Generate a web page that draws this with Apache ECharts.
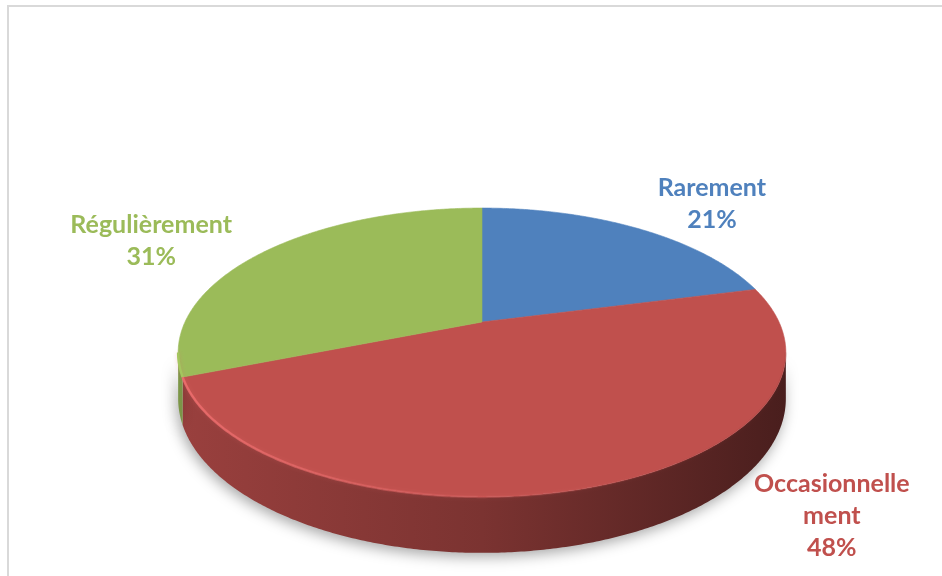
<!DOCTYPE html>
<html>
<head>
<meta charset="utf-8">
<script src="https://cdn.jsdelivr.net/npm/echarts@6/dist/echarts.min.js"></script>
<style>
html,body{margin:0;padding:0;background:#fff;}
#chart{width:942px;height:576px;}
</style>
</head>
<body>
<div id="chart"></div>
<script>
// ---- data ----
const categories = ['Rarement', 'Occasionnellement', 'Régulièrement'];
const values = [21, 48, 31];
const labelTexts = ['Rarement\n21%', 'Occasionnelle\nment\n48%', 'Régulièrement\n31%'];
const colors = ['#4F81BD', '#C0504D', '#9BBB59'];

// ---- layout / projection constants ----
const W = 942, H = 576;
const CX = 482, CY = 322;      // apex of the pie (pixels)
const A = 297, B = 138;        // horizontal / vertical scale (px per unit)
const K = 0.211;               // perspective factor
const THICK = 0.32;            // side thickness (B units)
const LABEL_POS = [[0.774, -0.855], [1.178, 1.406], [-1.114, -0.587]];

function proj(t, level) {
  const d = 1 + K * Math.cos(t);
  return [Math.sin(t) / d, (-Math.cos(t) + level * THICK) / d];
}
function shade(hex, f) {
  const n = parseInt(hex.slice(1), 16);
  const c = x => Math.min(255, Math.round(x * f));
  return 'rgb(' + c((n >> 16) & 255) + ',' + c((n >> 8) & 255) + ',' + c(n & 255) + ')';
}

const total = values.reduce((a, b) => a + b, 0);
const slices = [];
let acc = 0;
values.forEach((v, i) => { slices.push([acc / total, (acc + v) / total, i]); acc += v; });
const customData = [];
slices.forEach(s => customData.push([s[0], s[1], s[2], 0]));
slices.forEach(s => customData.push([s[0], s[1], s[2], 1]));

const tA = Math.acos(-K), tB = 2 * Math.PI - Math.acos(-K);

function arcPts(api, t0, t1, level) {
  const pts = [];
  const n = Math.max(2, Math.ceil(Math.abs(t1 - t0) / (Math.PI / 360)));
  for (let i = 0; i <= n; i++) {
    const t = t0 + (t1 - t0) * i / n;
    pts.push(api.coord(proj(t, level)));
  }
  return pts;
}

function renderItem(params, api) {
  const s = api.value(0), e = api.value(1), idx = api.value(2), part = api.value(3);
  const t0 = s * 2 * Math.PI, t1 = e * 2 * Math.PI;
  const col = colors[idx];
  const left = api.coord([-1.03, 0])[0], right = api.coord([1.03, 0])[0];
  if (part === 0) {
    const a = Math.max(t0, tA), b = Math.min(t1, tB);
    if (b <= a) return null;
    const top = arcPts(api, a, b, 0);
    const bot = arcPts(api, b, a, 1);
    const grad = new echarts.graphic.LinearGradient(left, 0, right, 0, [
      {offset: 0, color: shade(col, 0.80)},
      {offset: 0.5, color: shade(col, 0.64)},
      {offset: 1, color: shade(col, 0.38)}
    ], true);
    const rim = new echarts.graphic.LinearGradient(left, 0, right, 0, [
      {offset: 0, color: 'rgba(240,110,110,0.85)'},
      {offset: 0.35, color: 'rgba(225,100,100,0.55)'},
      {offset: 0.7, color: 'rgba(200,85,85,0.15)'},
      {offset: 1, color: 'rgba(120,40,40,0.1)'}
    ], true);
    return {
      type: 'group',
      children: [
        {type: 'polygon', shape: {points: top.concat(bot)},
         style: {fill: grad, stroke: null, shadowBlur: 14, shadowColor: 'rgba(0,0,0,0.35)', shadowOffsetY: 4, shadowOffsetX: -2}},
        {type: 'polyline', shape: {points: top}, z2: 5,
         style: {stroke: idx === 1 ? rim : shade(col, 1.06), lineWidth: 2.5, fill: null, shadowBlur: 4, shadowColor: 'rgba(230,110,110,0.3)'}}
      ]
    };
  }
  const pts = [api.coord([0, 0])].concat(arcPts(api, t0, t1, 0));
  const lp = api.coord(LABEL_POS[idx]);
  return {
    type: 'group',
    children: [
      {type: 'polygon', shape: {points: pts}, style: {fill: col, stroke: col, lineWidth: 0.6}},
      {type: 'text', x: lp[0], y: lp[1], z2: 20,
       style: {text: labelTexts[idx], fill: col, font: 'bold 25px Lato', lineHeight: 32,
               align: 'center', verticalAlign: 'middle'}}
    ]
  };
}

const chart = echarts.init(document.getElementById('chart'), null, {renderer: 'canvas'});
chart.setOption({
  animation: false,
  backgroundColor: '#fff',
  graphic: [{type: 'rect', shape: {x: 8, y: 6, width: 2000, height: 2000},
             style: {fill: null, stroke: '#d9d9d9', lineWidth: 2}, silent: true, z: -10}],
  grid: {left: 0, right: 0, top: 0, bottom: 0},
  xAxis: {type: 'value', min: -CX / A, max: (W - CX) / A, show: false},
  yAxis: {type: 'value', min: -CY / B, max: (H - CY) / B, inverse: true, show: false},
  series: [{
    type: 'custom',
    name: categories.join(' / '),
    renderItem: renderItem,
    clip: false,
    data: customData
  }]
});
</script>
</body>
</html>
